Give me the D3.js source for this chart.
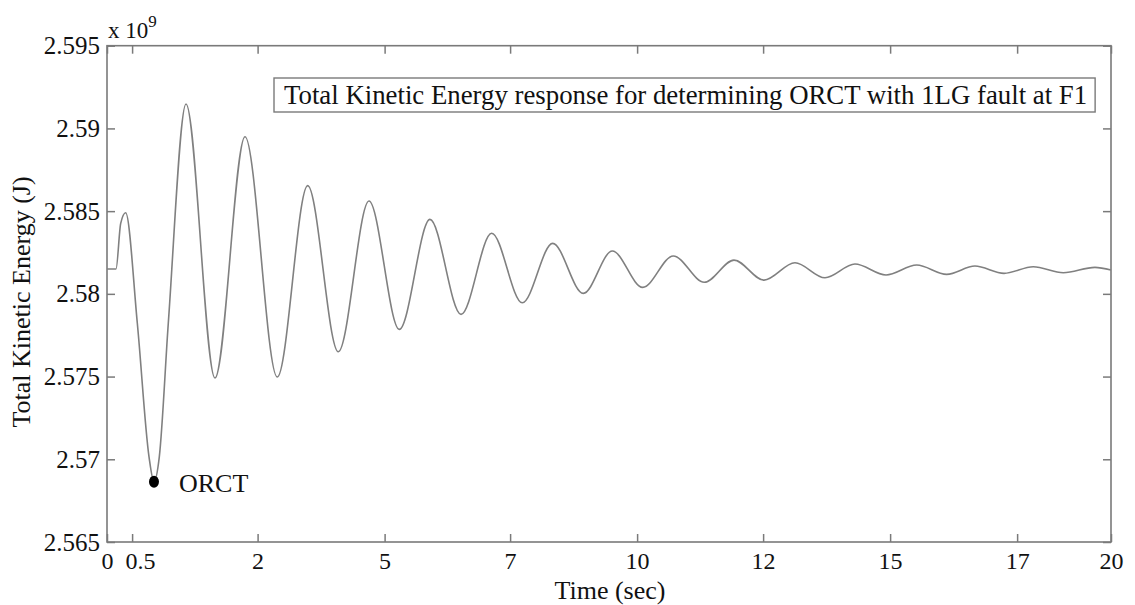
<!DOCTYPE html>
<html>
<head>
<meta charset="utf-8">
<script src="https://cdn.jsdelivr.net/npm/d3@7"></script>
<style>
  html, body { margin: 0; padding: 0; background: #fff; }
</style>
</head>
<body>
<svg id="chart" width="1135" height="605" font-family="'Liberation Serif', 'DejaVu Serif', serif"></svg>
<script>
// ---- data (time in sec, energy in units of 1e9 J) ----
const timeSec = [0, 0.179, 0.273, 0.372, 0.604, 0.837, 0.936, 1.042, 1.221, 1.574, 2.151, 2.749, 3.392, 3.998, 4.608,
  5.219, 5.823, 6.434, 7.052, 7.663, 8.273, 8.878, 9.488, 10.066, 10.671, 11.281, 11.898, 12.49, 13.088,
  13.705, 14.303, 14.9, 15.518, 16.13, 16.727, 17.29, 17.869, 18.452, 19.05, 19.68, 20];
const kineticEnergy = [2.5815, 2.5815, 2.58426, 2.5849, 2.57822, 2.57015, 2.56864, 2.57015, 2.57822, 2.59148, 2.57491, 2.5895, 2.57497, 2.58654, 2.5765,
  2.58561, 2.57785, 2.5845, 2.57876, 2.58366, 2.57946, 2.58305, 2.58003, 2.58259, 2.58039, 2.58229, 2.5807, 2.58204, 2.58083,
  2.58188, 2.58097, 2.5818, 2.58114, 2.58174, 2.58118, 2.58168, 2.58124, 2.58164, 2.58128, 2.5816, 2.58144];
const orctPoint = [0.936, 2.56864];
const xTickValues = [0, 0.5, 3, 5.53, 8.03, 10.56, 13.07, 15.6, 18.13, 20];
const xTickLabels = ["0", "0.5", "2", "5", "7", "10", "12", "15", "17", "20"];
const yTickValues = [2.565, 2.57, 2.575, 2.58, 2.585, 2.59, 2.595];
const yTickLabels = ["2.565", "2.57", "2.575", "2.58", "2.585", "2.59", "2.595"];
const titleText = "Total Kinetic Energy response for determining ORCT with 1LG fault at F1";
const xLabel = "Time (sec)";
const yLabel = "Total Kinetic Energy (J)";

// ---- layout ----
const L = 107, R = 1111, T = 45.7, B = 542;
const FONT = "'Liberation Serif', 'DejaVu Serif', serif";
const svg = d3.select("#chart");
const axisColor = "#7a7a7a";

const x = d3.scaleLinear().domain([0, 20]).range([L, R]);
const y = d3.scaleLinear().domain([2.565, 2.595]).range([B, T]);

// frame
svg.append("rect").attr("x", L).attr("y", T).attr("width", R - L).attr("height", B - T)
  .attr("fill", "none").attr("stroke", axisColor).attr("stroke-width", 1.6);

// axes
const xAxis = d3.axisBottom(x).tickValues(xTickValues).tickFormat((d, i) => xTickLabels[i]).tickSizeInner(-8).tickSizeOuter(0).tickPadding(10);
const gx = svg.append("g").attr("transform", `translate(0,${B})`).call(xAxis);
const xTop = d3.axisTop(x).tickValues(xTickValues).tickFormat("").tickSizeInner(-8).tickSizeOuter(0);
const gxt = svg.append("g").attr("transform", `translate(0,${T})`).call(xTop);
const yAxis = d3.axisLeft(y).tickValues(yTickValues).tickFormat((d, i) => yTickLabels[i]).tickSizeInner(-8).tickSizeOuter(0).tickPadding(7);
const gy = svg.append("g").attr("transform", `translate(${L},0)`).call(yAxis);
const yRight = d3.axisRight(y).tickValues(yTickValues).tickFormat("").tickSizeInner(-8).tickSizeOuter(0);
const gyr = svg.append("g").attr("transform", `translate(${R},0)`).call(yRight);

[gx, gxt, gy, gyr].forEach(g => {
  g.attr("font-family", FONT);
  g.select(".domain").remove();
  g.selectAll(".tick line").attr("stroke", axisColor).attr("stroke-width", 1.5);
  g.selectAll(".tick text").style("font-family", FONT).attr("fill", "#111");
});
gx.selectAll(".tick text").attr("font-size", 24).attr("dy", "0.71em");
gy.selectAll(".tick text").attr("font-size", 25);
gx.selectAll(".tick").filter(d => d === 0.5).select("text").attr("dx", 8);

// exponent label
const ex = svg.append("text").attr("x", L + 1).attr("y", 38).attr("font-size", 23).attr("fill", "#111").style("font-family", FONT);
ex.append("tspan").text("x 10");
ex.append("tspan").attr("dy", -11).attr("font-size", 17).text("9");

// line
const line = d3.line().x((d, i) => x(timeSec[i])).y(d => y(d)).curve(d3.curveMonotoneX);
svg.append("path").datum(kineticEnergy).attr("d", line)
  .attr("fill", "none").attr("stroke", "#808080").attr("stroke-width", 1.6);

// ORCT marker
svg.append("ellipse").attr("cx", x(orctPoint[0])).attr("cy", y(orctPoint[1])).attr("rx", 5).attr("ry", 6).attr("fill", "#000");
svg.append("text").attr("x", x(orctPoint[0]) + 25).attr("y", y(orctPoint[1]) + 10)
  .attr("font-size", 26).attr("fill", "#111").style("font-family", FONT).text("ORCT");

// title box
const tb = svg.append("g");
const tt = tb.append("text").attr("x", 284).attr("y", 104).attr("font-size", 26.8).attr("fill", "#111").style("font-family", FONT).text(titleText);
const bb = tt.node().getBBox();
tb.insert("rect", "text").attr("x", 274).attr("y", 78).attr("width", bb.width + 18).attr("height", 34)
  .attr("fill", "#fff").attr("stroke", axisColor).attr("stroke-width", 1.4);

// axis labels
svg.append("text").attr("x", 610).attr("y", 599).attr("text-anchor", "middle").attr("font-size", 26)
  .attr("fill", "#111").style("font-family", FONT).text(xLabel);
svg.append("text").attr("transform", `translate(30,302) rotate(-90)`).attr("text-anchor", "middle")
  .attr("font-size", 26).attr("fill", "#111").style("font-family", FONT).text(yLabel);
</script>
</body>
</html>
